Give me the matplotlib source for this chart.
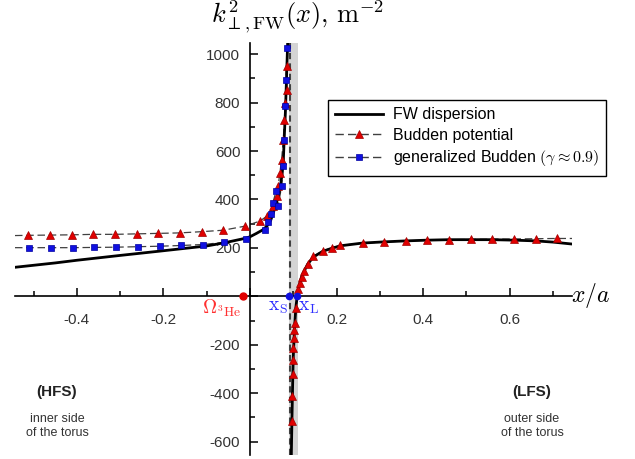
import matplotlib as mpl
mpl.use('Agg')
import matplotlib.pyplot as plt
from matplotlib.ticker import MultipleLocator

plt.rcParams['font.family'] = ['Liberation Sans', 'DejaVu Sans']
plt.rcParams['mathtext.fontset'] = 'cm'

# FW dispersion, left branch (HFS side of the resonance)
fw_left_x = [-0.543, -0.45, -0.4, -0.3, -0.207, -0.1, -0.057, -0.01, 0.0, 0.015, 0.031,
             0.04, 0.048, 0.053, 0.06, 0.065, 0.07, 0.073, 0.077, 0.079, 0.082, 0.084, 0.086, 0.087]
fw_left_y = [120, 138, 149, 169, 187, 208, 222, 240, 246, 260, 276,
             292, 315, 340, 380, 410, 450, 490, 560, 650, 770, 880, 990, 1046]
# FW dispersion, right branch (evanescent part and LFS side)
fw_right_x = [0.0955, 0.096, 0.097, 0.098, 0.099, 0.100, 0.102, 0.104, 0.106, 0.109, 0.112,
              0.115, 0.119, 0.125, 0.133, 0.146, 0.168, 0.19, 0.21, 0.26, 0.31, 0.36,
              0.41, 0.46, 0.51, 0.56, 0.61, 0.66, 0.70, 0.744]
fw_right_y = [-655, -600, -500, -410, -320, -250, -165, -100, -45, 0, 29,
              56, 80, 104, 132, 162, 186, 199, 209, 220, 225, 229,
              232, 234, 234, 234, 232, 229, 224, 216]

# Budden potential
bud_left_x = [-0.543, -0.512, -0.462, -0.412, -0.362, -0.312, -0.262, -0.212, -0.162, -0.112, -0.062,
              -0.011, 0.023, 0.039, 0.054, 0.062, 0.065, 0.069, 0.073, 0.077, 0.079, 0.082, 0.085, 0.086]
bud_left_y = [251, 252, 253, 254, 256, 256, 258, 260, 262, 267, 273,
              290, 311, 331, 372, 414, 455, 510, 565, 647, 730, 799, 854, 950]
bud_right_x = [0.096, 0.098, 0.099, 0.100, 0.100, 0.102, 0.102, 0.104, 0.106, 0.112, 0.115,
               0.119, 0.125, 0.133, 0.146, 0.168, 0.189, 0.208, 0.26, 0.31, 0.36, 0.41,
               0.46, 0.51, 0.56, 0.61, 0.66, 0.71]
bud_right_y = [-514, -411, -322, -264, -212, -174, -139, -108, -47, 29, 56,
               81, 104, 135, 165, 188, 200, 210, 220, 224, 229, 232,
               234, 235, 236, 237, 238, 239]
bud_line_end = (0.744, 239)

# generalized Budden (gamma ~ 0.9)
gen_x = [-0.543, -0.510, -0.460, -0.409, -0.360, -0.309, -0.259, -0.209, -0.159, -0.109, -0.059,
         -0.009, 0.035, 0.042, 0.048, 0.053, 0.060, 0.065, 0.073, 0.077, 0.079, 0.082, 0.083, 0.086]
gen_y = [201, 201, 201, 201, 202, 203, 205, 207, 210, 214, 223,
         238, 276, 305, 338, 387, 433, 372, 455, 537, 647, 785, 895, 1025]
gen_pairs = sorted(zip(gen_x, gen_y))
gen_x = [p[0] for p in gen_pairs]
gen_y = [p[1] for p in gen_pairs]

x_res = 0.0915
band = (0.089, 0.112)
x_S, x_L = 0.090, 0.109
x_He = -0.016

RED, RED_E = '#e00000', '#a00000'
BLUE, BLUE_E = '#1010e0', '#0000a0'
dash = (0, (6, 3))

fig = plt.figure(figsize=(6.35, 4.59), dpi=100)
ax = fig.add_axes([15/635, 4/459, 557/635, 412/459])
ax.set_xlim(-0.543, 0.744)
ax.set_ylim(-655, 1046)

ax.axvspan(band[0], band[1], color='#d4d4d4', lw=0, zorder=0)
ax.axvline(x_res, color='#404040', ls=(0, (3, 2)), lw=1.5, zorder=1)

ax.plot(fw_left_x, fw_left_y, color='black', lw=2.0, zorder=3, label='FW dispersion')
ax.plot(fw_right_x, fw_right_y, color='black', lw=2.0, zorder=3)

ax.plot(bud_left_x, bud_left_y, color='#404040', lw=0.9, ls=dash, zorder=2)
ax.plot(bud_left_x[1:], bud_left_y[1:], ls='none', marker='^', ms=5.5, mfc=RED,
        mec=RED_E, mew=0.5, zorder=4)
ax.plot(bud_right_x + [bud_line_end[0]], bud_right_y + [bud_line_end[1]], color='#404040',
        lw=0.9, ls=dash, zorder=2)
ax.plot(bud_right_x, bud_right_y, ls='none', marker='^', ms=5.5, mfc=RED,
        mec=RED_E, mew=0.5, zorder=4)

ax.plot(gen_x, gen_y, color='#404040', lw=0.9, ls=dash, zorder=2)
ax.plot(gen_x[1:], gen_y[1:], ls='none', marker='s', ms=4.2, mfc=BLUE,
        mec=BLUE_E, mew=0.5, zorder=4)

# legend handles
ax.plot([], [], color='#404040', lw=1.0, ls=dash, marker='^', ms=5.5, mfc=RED,
        mec=RED_E, mew=0.5, label='Budden potential')
ax.plot([], [], color='#404040', lw=1.0, ls=dash, marker='s', ms=4.2, mfc=BLUE,
        mec=BLUE_E, mew=0.5, label=r'generalized Budden $(\gamma\approx 0.9)$')
h, l = ax.get_legend_handles_labels()
leg = ax.legend(h, l, loc='upper left', bbox_to_anchor=(313/557, 1 - 57/412), fontsize=11.5,
                frameon=True, fancybox=False, edgecolor='black', framealpha=1,
                handlelength=3, handletextpad=0.6, numpoints=1, borderpad=0.45,
                labelspacing=0.35, borderaxespad=0)
leg.get_frame().set_linewidth(1.0)

# special points
ax.plot([x_He], [0], 'o', color=RED, ms=5, zorder=5, clip_on=False)
ax.plot([x_S, x_L], [0, 0], 'o', color=BLUE, ms=4.5, zorder=5, clip_on=False)
ax.text(x_He - 0.004, -50, r'$\Omega_{{}^3\mathrm{He}}$', color='#ff3030', fontsize=14,
        ha='right', va='center')
ax.text(x_S - 0.002, -45, r'$\mathrm{x_S}$', color='#3030ff', fontsize=14, ha='right', va='center')
ax.text(x_L + 0.002, -45, r'$\mathrm{x_L}$', color='#3030ff', fontsize=14, ha='left', va='center')

# axes through origin
for s in ['top', 'right']:
    ax.spines[s].set_visible(False)
ax.spines['left'].set_position(('data', 0))
ax.spines['bottom'].set_position(('data', 0))
ax.spines['left'].set_linewidth(1.2)
ax.spines['bottom'].set_linewidth(1.2)
ax.set_xticks([-0.4, -0.2, 0, 0.2, 0.4, 0.6])
ax.set_xticklabels(['-0.4', '-0.2', '', '0.2', '0.4', '0.6'])
ax.set_yticks([-600, -400, -200, 0, 200, 400, 600, 800, 1000])
ax.set_yticklabels(['-600', '-400', '-200', '', '200', '400', '600', '800', '1000'])
ax.xaxis.set_minor_locator(MultipleLocator(0.1))
ax.yaxis.set_minor_locator(MultipleLocator(100))
ax.tick_params(which='both', direction='in', labelsize=11, labelcolor='#333333', width=1.1)
ax.tick_params(which='major', length=6)
ax.tick_params(which='minor', length=3.5)
ax.tick_params(axis='x', which='major', pad=12)
ax.tick_params(axis='y', which='major', pad=7)

fig.text(298/635, 1 - 17/459, r'$k^2_{\perp,\mathrm{FW}}(x),\,\mathrm{m}^{-2}$', fontsize=19,
         ha='center', va='center')
fig.text(591/635, 1 - 296/459, r'$x/a$', fontsize=17, ha='center', va='center')

fig.text(57/635, 1 - 392/459, '(HFS)', fontsize=11, fontweight='bold', ha='center', va='center',
         color='#222222')
fig.text(57/635, 1 - 426/459, 'inner side\nof the torus', fontsize=9, ha='center', va='center',
         color='#333333', linespacing=1.2)
fig.text(532/635, 1 - 392/459, '(LFS)', fontsize=11, fontweight='bold', ha='center', va='center',
         color='#222222')
fig.text(532/635, 1 - 426/459, 'outer side\nof the torus', fontsize=9, ha='center', va='center',
         color='#333333', linespacing=1.2)

fig.savefig('out.png', dpi=100)
